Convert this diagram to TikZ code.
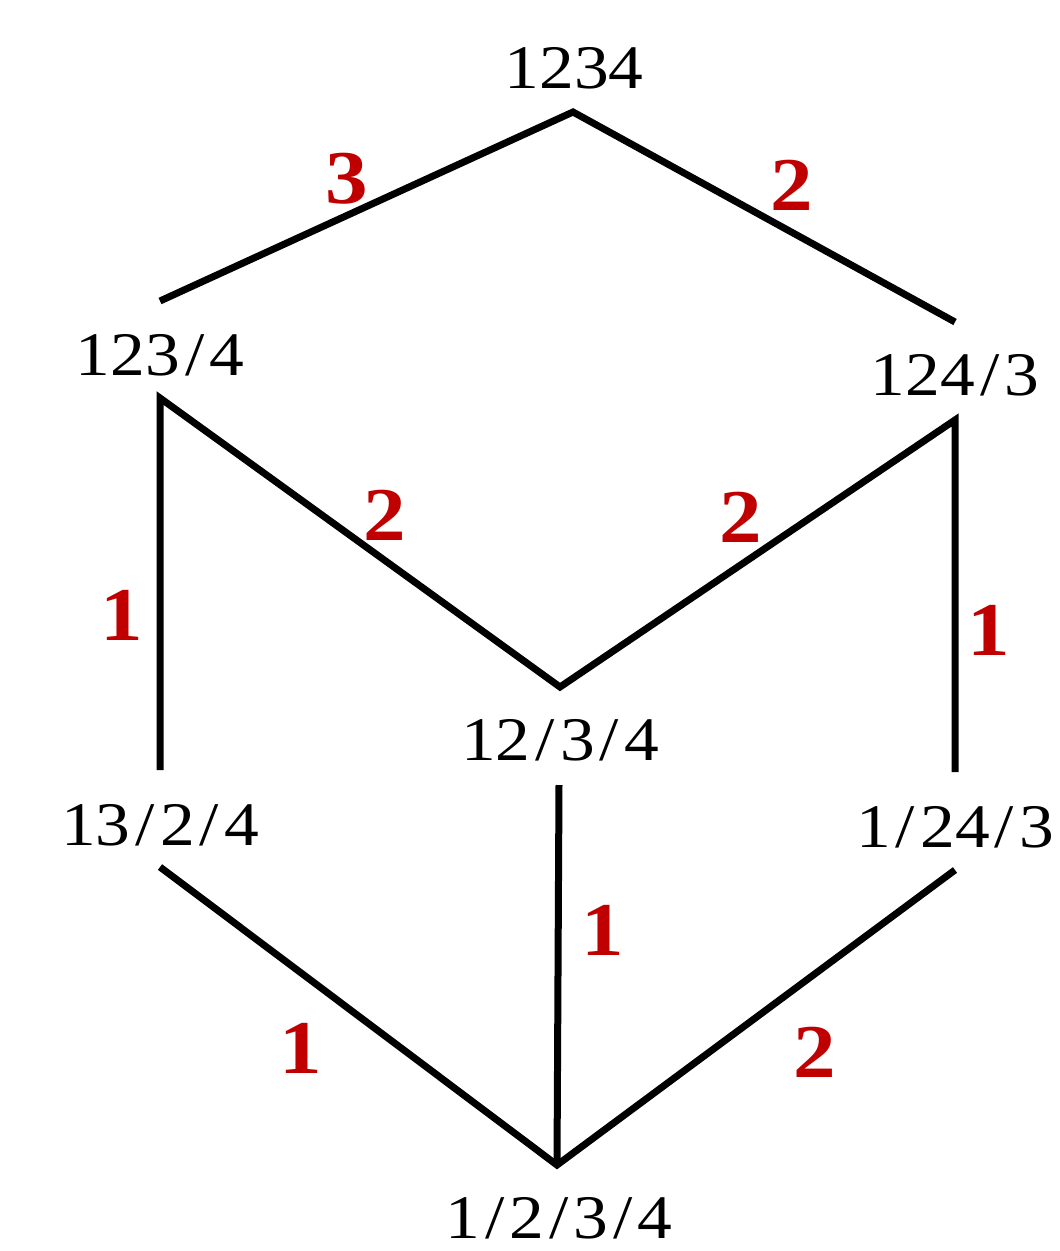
\documentclass[tikz,border=0pt]{standalone}
\usepackage{fontspec}
\setmainfont{Liberation Serif}[FakeStretch=1.12]
\definecolor{lblred}{RGB}{192,0,0}
\newcommand{\sep}{\kern5pt/\kern5pt}
\begin{document}
\begin{tikzpicture}[x=1pt,y=-1pt,
  part/.style={anchor=base,inner sep=0pt,font=\fontsize{62}{70}\selectfont},
  wt/.style={anchor=base,inner sep=0pt,text=lblred,font=\fontsize{76}{80}\selectfont\bfseries},
  edge/.style={line width=7pt}]
\useasboundingbox (0,0) rectangle (1060,1251);
% partitions
\node[part] (p1234) at (574,88) {1234};
\node[part] (p1234b) at (160,375) {123\sep4};
\node[part] (p1243) at (955,395) {124\sep3};
\node[part] (p1234c) at (560,760) {12\sep3\sep4};
\node[part] (p1324) at (160,845) {13\sep2\sep4};
\node[part] (p1243b) at (955,847) {1\sep24\sep3};
\node[part] (p1_2_3_4) at (559,1238) {1\sep2\sep3\sep4};
% endpoints
\coordinate (t) at (573,112);
\coordinate (aU) at (160,301);
\coordinate (aD) at (160,398);
\coordinate (bU) at (955,322);
\coordinate (bD) at (955,420);
\coordinate (cU) at (560,687);
\coordinate (cD) at (559,785);
\coordinate (dU) at (160,770);
\coordinate (dD) at (160,867);
\coordinate (eU) at (955,772);
\coordinate (eD) at (955,870);
\coordinate (f) at (557,1165);
% edges
\draw[edge] (aU) -- (t) -- (bU);
\draw[edge] (dU) -- (aD) -- (cU) -- (bD) -- (eU);
\draw[edge] (dD) -- (f) -- (eD);
\draw[edge] (cD) -- (f);
% weights
\node[wt] (w1) at (347,203) {3};
\node[wt] (w2) at (792,210) {2};
\node[wt] (w3) at (385,540) {2};
\node[wt] (w4) at (741,542) {2};
\node[wt] (w5) at (122,640) {1};
\node[wt] (w6) at (989,655) {1};
\node[wt] (w7) at (603,955) {1};
\node[wt] (w8) at (301,1073) {1};
\node[wt] (w9) at (815,1077) {2};
\end{tikzpicture}
\end{document}
